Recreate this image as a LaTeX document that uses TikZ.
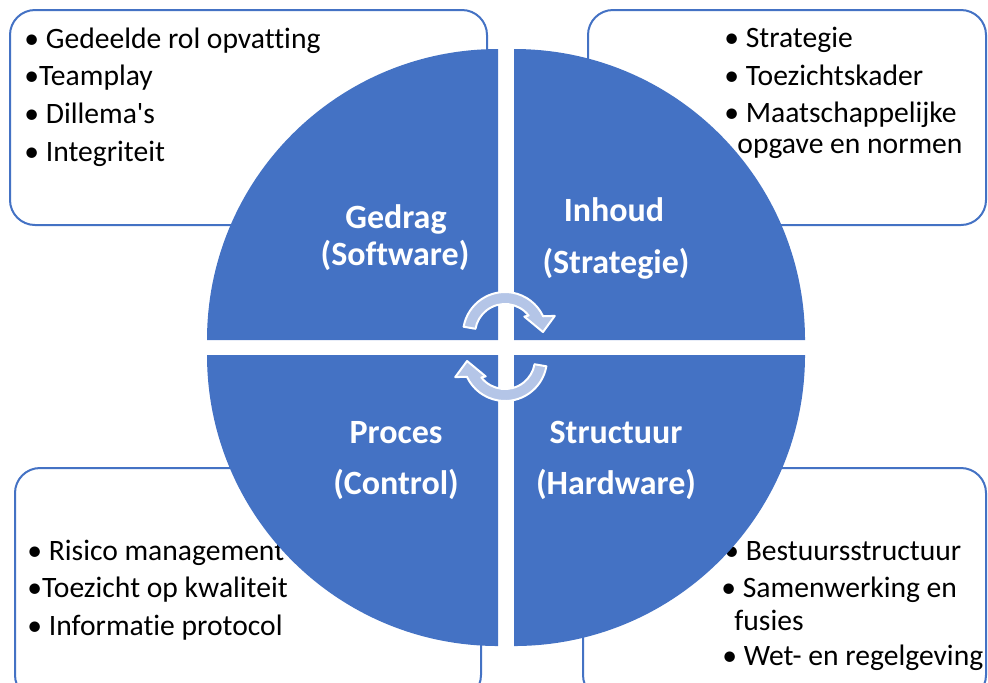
\documentclass[tikz,border=0pt]{standalone}
\usepackage{fontspec}
\setmainfont{Carlito}[Ligatures={NoCommon}]
\definecolor{quartblue}{HTML}{4472C4}
\definecolor{arrowblue}{HTML}{B4C5E7}
\tikzset{
  infobox/.style={draw=quartblue, line width=1pt, rounded corners=12.5pt, fill=white},
  quarter/.style={fill=quartblue},
  item/.style={anchor=base west, inner sep=0pt, font=\fontsize{14.8}{17}\selectfont},
  title/.style={anchor=base, inner sep=0pt, text=white, font=\bfseries\fontsize{17}{20}\selectfont},
  cyclearrow/.style={fill=arrowblue, draw=white, line width=1pt, line join=round},
}
\begin{document}
\begin{tikzpicture}[x=0.5pt,y=-0.5pt]
  \clip (0,0) rectangle (988,682);
  % boxes
  \draw[infobox] (10,10) rectangle (487,225);
  \draw[infobox] (588,10) rectangle (986,225);
  \draw[infobox] (15,468) rectangle (481,700);
  \draw[infobox] (583,468) rectangle (986,700);
  % items
  \node[item] (gedrag1) at (24,48) {• Gedeelde rol opvatting};
  \node[item] (gedrag2) at (24,85) {•Teamplay};
  \node[item] (gedrag3) at (24,123) {• Dillema\textquotesingle s};
  \node[item] (gedrag4) at (24,161) {• Integriteit};
  \node[item] (inhoud1) at (724,47) {• Strategie};
  \node[item] (inhoud2) at (724,85) {• Toezichtskader};
  \node[item] (inhoud3) at (724,122) {• Maatschappelijke};
  \node[item] (inhoud4) at (737,153) {opgave en normen};
  \node[item] (proces1) at (27,560) {• Risico management};
  \node[item] (proces2) at (27,597) {•Toezicht op kwaliteit};
  \node[item] (proces3) at (27,635) {• Informatie protocol};
  \node[item] (structuur1) at (724,560) {• Bestuursstructuur};
  \node[item] (structuur2) at (721,597) {• Samenwerking en};
  \node[item] (structuur3) at (734,630) {fusies};
  \node[item] (structuur4) at (722,665) {• Wet- en regelgeving};
  % quarters
  \fill[quarter] (498,340) -- (207,340) arc[start angle=180, end angle=270, radius=291] -- cycle;
  \fill[quarter] (514,340) -- (514,49) arc[start angle=270, end angle=360, radius=291] -- cycle;
  \fill[quarter] (514,355) -- (805,355) arc[start angle=0, end angle=90, radius=291] -- cycle;
  \fill[quarter] (498,355) -- (498,646) arc[start angle=90, end angle=180, radius=291] -- cycle;
  % titles
  \node[title] (gedrag) at (396,228) {Gedrag};
  \node[title] (software) at (395,265) {(Software)};
  \node[title] (inhoud) at (614,221) {Inhoud};
  \node[title] (strategie) at (616,273) {(Strategie)};
  \node[title] (proces) at (396,443) {Proces};
  \node[title] (control) at (396,494) {(Control)};
  \node[title] (structuur) at (616,443) {Structuur};
  \node[title] (hardware) at (616,494) {(Hardware)};
  % cycle arrows
  \begin{scope}[shift={(505,334)}]
    \draw[cyclearrow] (190:42) arc[start angle=190, end angle=335, radius=42]
      -- (340:53) -- (357:38) -- (318:26) -- (322:30)
      arc[start angle=322, end angle=190, radius=30] -- cycle;
  \end{scope}
  \begin{scope}[shift={(505,359)}]
    \draw[cyclearrow] (10:42) arc[start angle=10, end angle=155, radius=42]
      -- (160:53) -- (177:38) -- (138:26) -- (142:30)
      arc[start angle=142, end angle=10, radius=30] -- cycle;
  \end{scope}
\end{tikzpicture}
\end{document}
